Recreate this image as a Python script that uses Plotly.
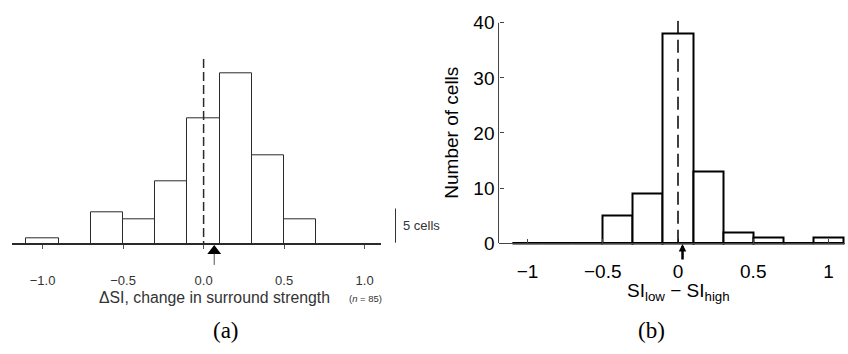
import plotly.graph_objects as go

W, H = 848, 354

# ---------------- data ----------------
bin_centers = [-1.0, -0.8, -0.6, -0.4, -0.2, 0.0, 0.2, 0.4, 0.6, 0.8, 1.0]
bin_width = 0.2
a_counts = [1, 0, 5, 4, 10, 20, 27, 14, 4, 0, 0]      # panel (a), n = 85
b_counts = [0, 0, 0, 5, 9, 38, 13, 2, 1, 0, 1]        # panel (b)
a_ticks = [-1.0, -0.5, 0.0, 0.5, 1.0]
a_ticklabels = ["\u22121.0", "\u22120.5", "0.0", "0.5", "1.0"]
b_ticks = [-1, -0.5, 0, 0.5, 1]
b_ticklabels = ["\u22121", "\u22120.5", "0", "0.5", "1"]
b_yticks = [0, 10, 20, 30, 40]
a_arrow = 0.066   # marker under panel (a)
b_arrow = 0.03    # marker under panel (b)
scale_cells = 5

# ---------------- pixel geometry helpers ----------------
def fx(px):
    return px / W

def fy(py):
    return 1 - py / H

# panel (a): x px = 203.6 + 161*v ; baseline 246.7 ; 6.6 px per cell
ax0, asx = 203.6, 161.0
a_base, asy = 246.7, 6.6
a_xr = [-1.19, 1.1]
a_xd = [fx(ax0 + asx * a_xr[0]), fx(ax0 + asx * a_xr[1])]
a_top_px, a_bot_px = 40, 272
a_yr = [-(a_bot_px - a_base) / asy, (a_base - a_top_px) / asy]
a_yd = [fy(a_bot_px), fy(a_top_px)]

# panel (b): x px = 678 + 150.5*v ; 0 at 245.5 ; 5.75 px per unit
bx0, bsx = 678.0, 150.5
b_base, bsy = 245.5, 5.75
b_xr = [(498.5 - bx0) / bsx, 1.11]
b_xd = [fx(498.5), fx(bx0 + bsx * b_xr[1])]
b_top_px, b_bot_px = 13, 249
b_yr = [-(b_bot_px - b_base) / bsy, (b_base - b_top_px) / bsy]
b_yd = [fy(b_bot_px), fy(b_top_px)]

ink_a = "#2a2a2a"

fig = go.Figure()

# panel (a) bars
fig.add_trace(go.Bar(
    x=bin_centers, y=a_counts, width=bin_width,
    marker=dict(color="white", line=dict(color=ink_a, width=1)),
    xaxis="x", yaxis="y", showlegend=False, hoverinfo="skip"))

# panel (a) arrow marker
fig.add_trace(go.Scatter(
    x=[a_arrow], y=[-(253.7 - a_base) / asy], mode="markers",
    marker=dict(symbol="triangle-up", size=12, color="black"),
    xaxis="x", yaxis="y", showlegend=False, cliponaxis=False, hoverinfo="skip"))

# panel (b) bars
fig.add_trace(go.Bar(
    x=bin_centers, y=b_counts, width=bin_width,
    marker=dict(color="white", line=dict(color="black", width=2)),
    xaxis="x2", yaxis="y2", showlegend=False, hoverinfo="skip"))

# panel (b) bar bottoms (incl. empty bins)
edges = [bin_centers[0] - bin_width / 2, bin_centers[-1] + bin_width / 2]
fig.add_trace(go.Scatter(
    x=edges, y=[0, 0], mode="lines", line=dict(color="black", width=2),
    xaxis="x2", yaxis="y2", showlegend=False, hoverinfo="skip"))

shapes = [
    # dashed zero line (a) - drawn from the top down
    dict(type="line", xref="x", yref="y", x0=0, x1=0, y0=(a_base - 53.3) / asy, y1=0,
         line=dict(color=ink_a, width=1.5, dash="9px,4px")),
    # arrow tail (a)
    dict(type="line", xref="x", yref="y", x0=a_arrow, x1=a_arrow,
         y0=-(256.5 - a_base) / asy, y1=-(268.3 - a_base) / asy,
         line=dict(color="#555", width=1)),
    # scale bar (a)
    dict(type="line", xref="paper", yref="y", x0=fx(395.5), x1=fx(395.5),
         y0=0.25, y1=0.25 + scale_cells * 1.08,
         line=dict(color="#333", width=1)),
    # dashed zero line (b) - drawn from the top down
    dict(type="line", xref="x2", yref="y2", x0=0, x1=0, y0=40.4, y1=0,
         line=dict(color="black", width=1.5, dash="13px,6px")),
    # y axis line (b)
    dict(type="line", xref="paper", yref="y2", x0=fx(498.5), x1=fx(498.5), y0=0, y1=40,
         line=dict(color="#444", width=1)),
]

annotations = [
    dict(text="\u0394SI, change in surround strength", x=fx(214.5), y=fy(302.5),
         xref="paper", yref="paper", xanchor="center", yanchor="middle", showarrow=False,
         font=dict(family="Liberation Sans", size=15.8, color="#333")),
    dict(text="(<i>n</i> = 85)", x=fx(365.5), y=fy(303.5),
         xref="paper", yref="paper", xanchor="center", yanchor="middle", showarrow=False,
         font=dict(family="Liberation Sans", size=9.5, color="#333")),
    dict(text="5 cells", x=fx(400.5), y=fy(227.3),
         xref="paper", yref="paper", xanchor="left", yanchor="middle", showarrow=False,
         font=dict(family="Liberation Sans", size=13, color="#333")),
    dict(text="(a)", x=fx(226), y=fy(337),
         xref="paper", yref="paper", xanchor="center", yanchor="middle", showarrow=False,
         font=dict(family="Liberation Serif", size=23, color="black")),
    dict(text="(b)", x=fx(651.7), y=fy(337),
         xref="paper", yref="paper", xanchor="center", yanchor="middle", showarrow=False,
         font=dict(family="Liberation Serif", size=23, color="black")),
    dict(text="Number of cells", x=fx(451.7), y=fy(130.5), textangle=-90,
         xref="paper", yref="paper", xanchor="center", yanchor="middle", showarrow=False,
         font=dict(family="Liberation Sans", size=19, color="black")),
    dict(text="SI<sub>low</sub> \u2212 SI<sub>high</sub>", x=fx(678), y=fy(296.5),
         xref="paper", yref="paper", xanchor="center", yanchor="middle", showarrow=False,
         font=dict(family="Liberation Sans", size=19, color="black")),
    # arrow (b)
    dict(text="", x=b_arrow, y=-(246.5 - b_base) / bsy, xref="x2", yref="y2",
         showarrow=True, arrowhead=2, arrowsize=0.6, arrowwidth=2.5, arrowcolor="black",
         ax=0, ay=17, standoff=0),
]

fig.update_layout(
    width=W, height=H, margin=dict(l=0, r=0, t=0, b=0),
    paper_bgcolor="white", plot_bgcolor="white",
    font=dict(family="Liberation Sans", color="black"),
    bargap=0,
    xaxis=dict(domain=a_xd, range=a_xr, anchor="free", position=fy(a_base),
               showline=True, linecolor=ink_a, linewidth=1.5, showgrid=False, zeroline=False,
               tickmode="array", tickvals=a_ticks, ticktext=a_ticklabels,
               ticks="outside", ticklen=4, tickwidth=1, tickcolor="#555",
               tickfont=dict(size=13, color="#333"), ticklabelstandoff=20),
    yaxis=dict(domain=a_yd, range=a_yr, visible=False),
    xaxis2=dict(domain=b_xd, range=b_xr, anchor="free", position=fy(b_base),
                showline=True, linecolor="#444", linewidth=1, showgrid=False, zeroline=False,
                tickmode="array", tickvals=b_ticks, ticktext=b_ticklabels,
                ticks="inside", ticklen=4, tickwidth=1, tickcolor="#444",
                tickfont=dict(size=19, color="black"), ticklabelstandoff=11),
    yaxis2=dict(domain=b_yd, range=b_yr, anchor="free", position=fx(498.5),
                showline=False, showgrid=False, zeroline=False,
                tickmode="array", tickvals=b_yticks,
                ticks="inside", ticklen=4, tickwidth=1, tickcolor="#444",
                tickfont=dict(size=19, color="black"), ticklabelstandoff=4),
    shapes=shapes, annotations=annotations,
)

fig.write_html("out.html")
